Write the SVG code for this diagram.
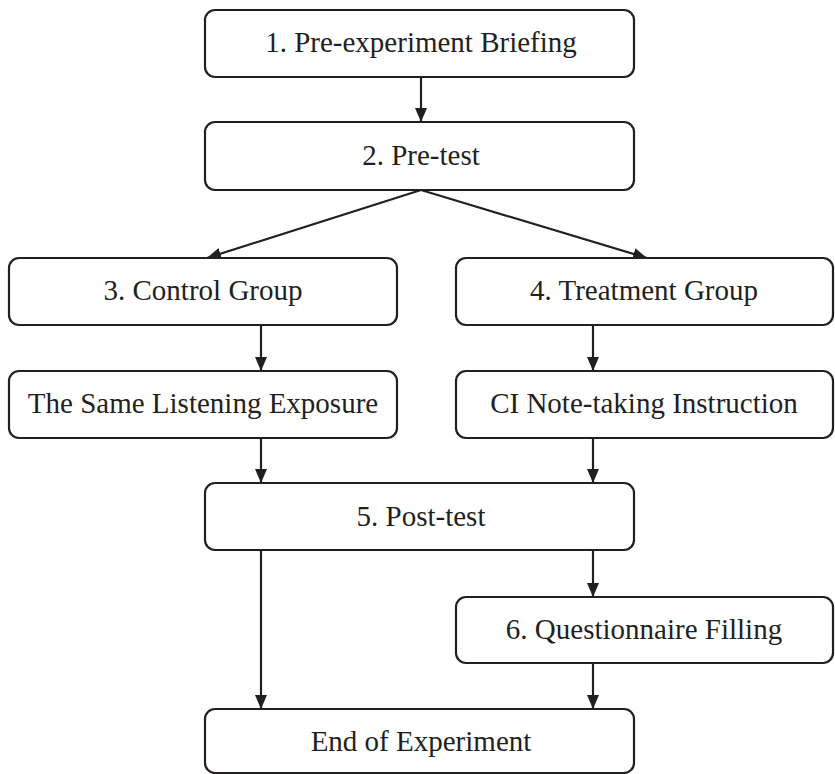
<svg xmlns="http://www.w3.org/2000/svg" width="835" height="774" viewBox="0 0 835 774">
<style>
.box{fill:#fff;stroke:#231f20;stroke-width:2.2}
.lbl{font-family:"Liberation Serif","Times New Roman",serif;font-size:29px;fill:#231f20;text-anchor:middle}
.con{stroke:#231f20;stroke-width:2.2;fill:none;marker-end:url(#ah)}
</style>
<defs>
<marker id="ah" viewBox="0 0 14 14" refX="14" refY="7" markerWidth="14" markerHeight="14" markerUnits="userSpaceOnUse" orient="auto">
<path d="M0,1 L14,7 L0,13 Z" fill="#231f20"/>
</marker>
</defs>
<rect width="835" height="774" fill="#fff"/>
<g id="connectors">
<line class="con" x1="421" y1="77" x2="421" y2="122"/>
<line class="con" x1="421" y1="190" x2="207" y2="258"/>
<line class="con" x1="421" y1="190" x2="647" y2="258"/>
<line class="con" x1="261" y1="325" x2="261" y2="371"/>
<line class="con" x1="593" y1="325" x2="593" y2="371"/>
<line class="con" x1="261" y1="438" x2="261" y2="483"/>
<line class="con" x1="593" y1="438" x2="593" y2="483"/>
<line class="con" x1="261" y1="550" x2="261" y2="709"/>
<line class="con" x1="593" y1="550" x2="593" y2="597"/>
<line class="con" x1="593" y1="663" x2="593" y2="709"/>
</g>
<g id="n1"><rect class="box" x="205" y="10" width="429" height="67" rx="10"/><text class="lbl" x="421" y="52">1. Pre-experiment Briefing</text></g>
<g id="n2"><rect class="box" x="205" y="122" width="429" height="68" rx="10"/><text class="lbl" x="421" y="165">2. Pre-test</text></g>
<g id="n3"><rect class="box" x="9" y="258" width="388" height="67" rx="10"/><text class="lbl" x="203" y="300">3. Control Group</text></g>
<g id="n4"><rect class="box" x="456" y="258" width="377" height="67" rx="10"/><text class="lbl" x="644" y="300">4. Treatment Group</text></g>
<g id="n3a"><rect class="box" x="9" y="371" width="388" height="67" rx="10"/><text class="lbl" x="203" y="413">The Same Listening Exposure</text></g>
<g id="n4a"><rect class="box" x="456" y="371" width="377" height="67" rx="10"/><text class="lbl" x="644" y="413">CI Note-taking Instruction</text></g>
<g id="n5"><rect class="box" x="205" y="483" width="429" height="67" rx="10"/><text class="lbl" x="421" y="526">5. Post-test</text></g>
<g id="n6"><rect class="box" x="456" y="597" width="377" height="66" rx="10"/><text class="lbl" x="644" y="639">6. Questionnaire Filling</text></g>
<g id="n7"><rect class="box" x="205" y="709" width="429" height="64" rx="10"/><text class="lbl" x="421" y="751">End of Experiment</text></g>
</svg>
